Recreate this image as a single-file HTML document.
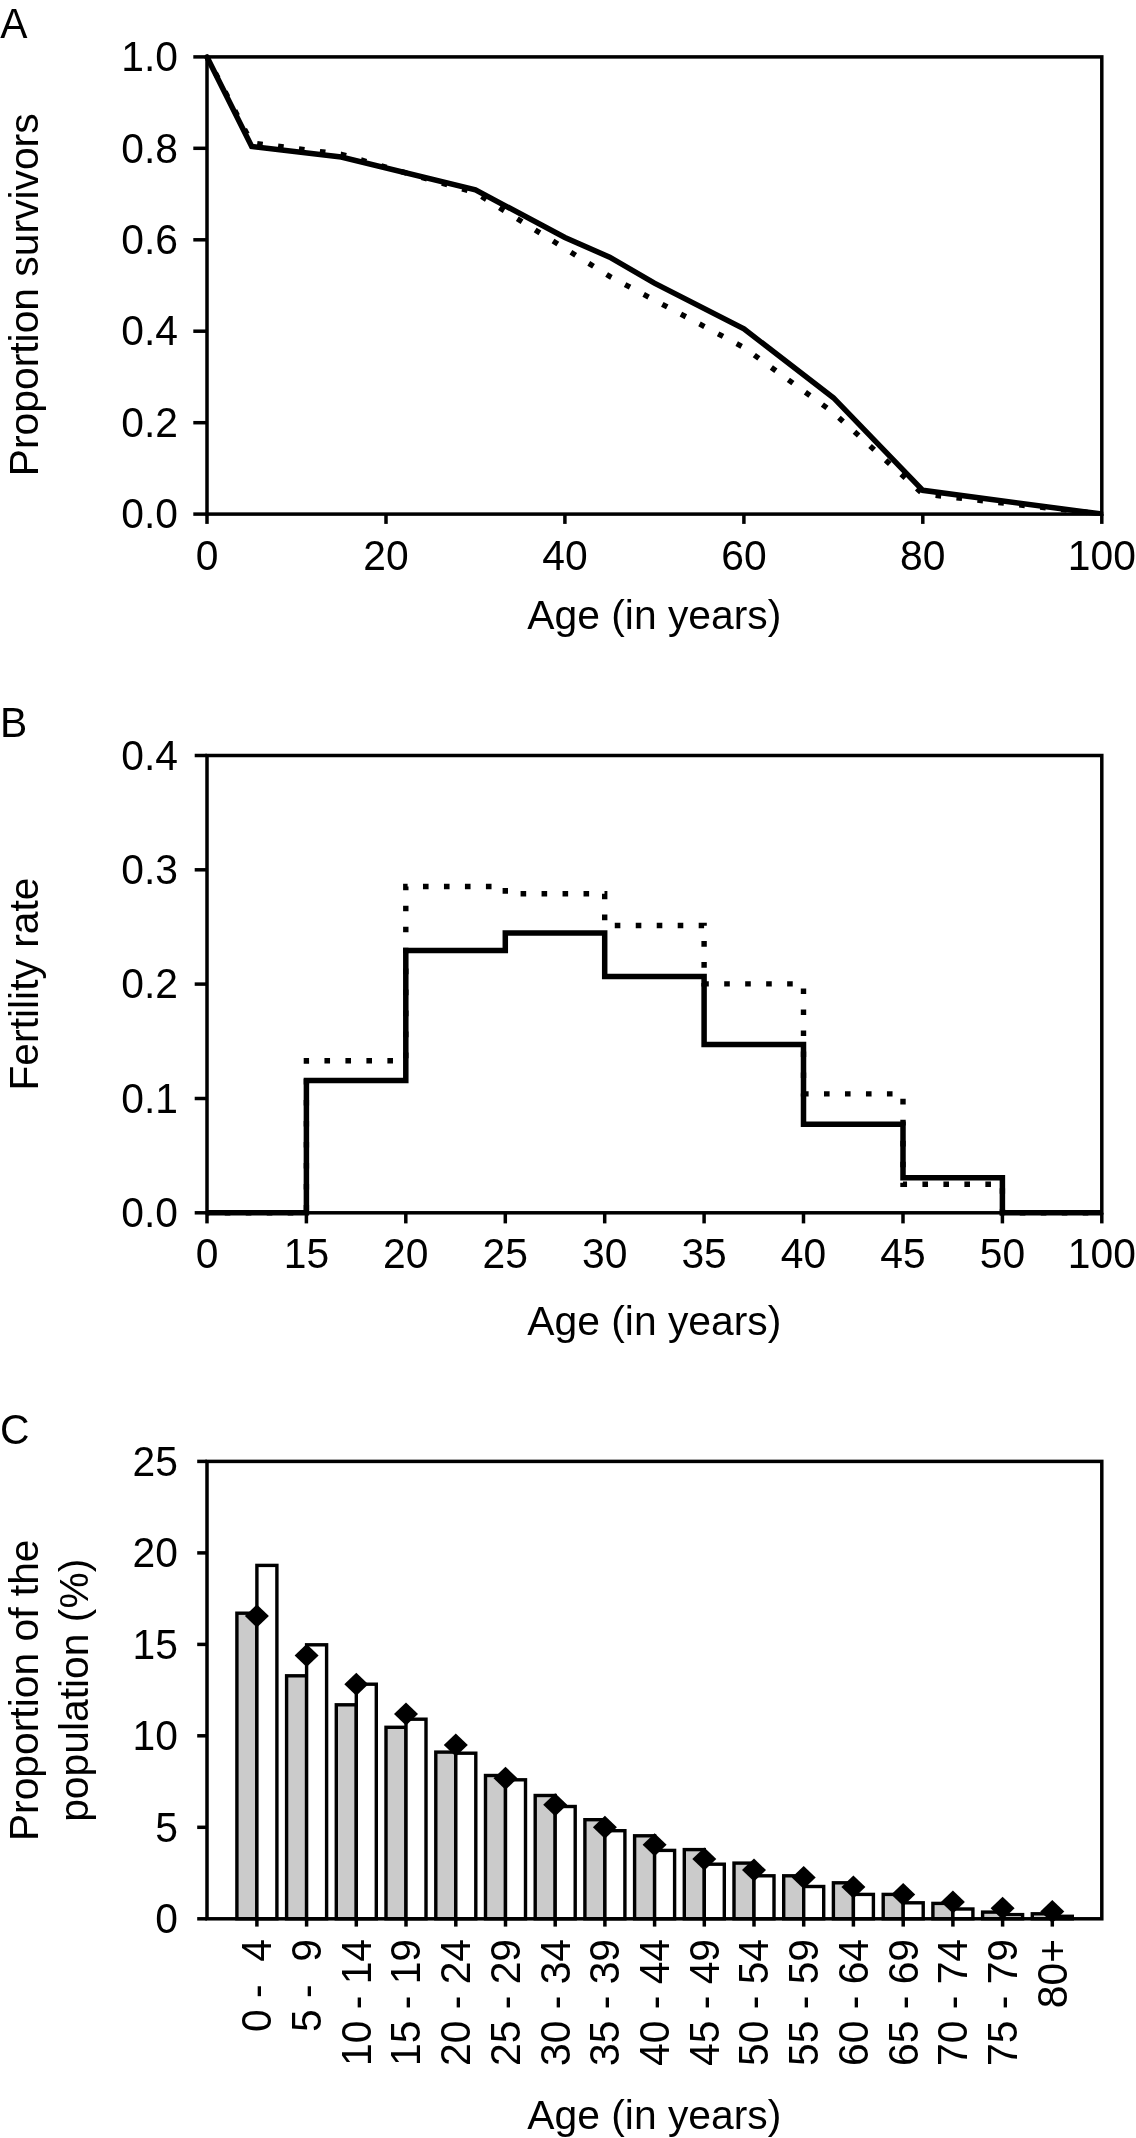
<!DOCTYPE html>
<html><head><meta charset="utf-8"><title>Figure</title>
<style>
html,body{margin:0;padding:0;background:#fff;}
svg{display:block;will-change:transform;}
text{font-family:"Liberation Sans",sans-serif;fill:#000;}
.fr{fill:none;stroke:#000;stroke-width:3.5;}
.tk{stroke:#000;stroke-width:3.5;}
.sol{fill:none;stroke:#000;stroke-width:5.5;stroke-linejoin:miter;stroke-linecap:round;}
.sq{stroke-linecap:butt;}
.dot{fill:none;stroke:#000;stroke-width:5.4;stroke-dasharray:5.6 15.45;stroke-dashoffset:2.8;}
.dotb{stroke-dasharray:5.6 15.38;stroke-dashoffset:3.2;}
.bg{fill:#cbcbcb;stroke:#000;stroke-width:3.4;}
.bw{fill:#fff;stroke:#000;stroke-width:3.4;}
.dia{fill:#000;}
</style></head>
<body>
<svg width="1136" height="2138" viewBox="0 0 1136 2138">
<rect width="1136" height="2138" fill="#fff"/>
<text transform="translate(0.3 38) scale(1 1.04)" text-anchor="start" font-size="40.8">A</text>
<polyline class="dot" points="207.0,56.9 251.7,142.9 341.2,154.3 475.4,192.7 609.7,276.4 743.9,347.5 833.4,412.6 922.8,494.0 1101.8,514.1"/>
<clipPath id="ca"><rect x="203.0" y="52.9" width="900.3" height="462.95"/></clipPath>
<polyline class="sol" clip-path="url(#ca)" points="207.0,56.9 251.7,146.5 341.2,157.0 475.4,189.9 564.9,237.5 609.7,257.2 654.4,283.2 743.9,328.9 833.4,397.7 922.8,490.3 1101.8,514.1"/>
<rect class="fr" x="207.0" y="56.9" width="894.8" height="457.20000000000005"/>
<line class="tk" x1="193.3" y1="514.1" x2="207.0" y2="514.1"/>
<text transform="translate(178 528.3) scale(1 1.04)" text-anchor="end" font-size="40.8">0.0</text>
<line class="tk" x1="193.3" y1="422.7" x2="207.0" y2="422.7"/>
<text transform="translate(178 436.9) scale(1 1.04)" text-anchor="end" font-size="40.8">0.2</text>
<line class="tk" x1="193.3" y1="331.2" x2="207.0" y2="331.2"/>
<text transform="translate(178 345.4) scale(1 1.04)" text-anchor="end" font-size="40.8">0.4</text>
<line class="tk" x1="193.3" y1="239.8" x2="207.0" y2="239.8"/>
<text transform="translate(178 254.0) scale(1 1.04)" text-anchor="end" font-size="40.8">0.6</text>
<line class="tk" x1="193.3" y1="148.3" x2="207.0" y2="148.3"/>
<text transform="translate(178 162.5) scale(1 1.04)" text-anchor="end" font-size="40.8">0.8</text>
<line class="tk" x1="193.3" y1="56.9" x2="207.0" y2="56.9"/>
<text transform="translate(178 71.1) scale(1 1.04)" text-anchor="end" font-size="40.8">1.0</text>
<line class="tk" x1="207.0" y1="514.1" x2="207.0" y2="523.9"/>
<text transform="translate(207.0 569.6) scale(1 1.04)" text-anchor="middle" font-size="40.8">0</text>
<line class="tk" x1="386.0" y1="514.1" x2="386.0" y2="523.9"/>
<text transform="translate(386.0 569.6) scale(1 1.04)" text-anchor="middle" font-size="40.8">20</text>
<line class="tk" x1="564.9" y1="514.1" x2="564.9" y2="523.9"/>
<text transform="translate(564.9 569.6) scale(1 1.04)" text-anchor="middle" font-size="40.8">40</text>
<line class="tk" x1="743.9" y1="514.1" x2="743.9" y2="523.9"/>
<text transform="translate(743.9 569.6) scale(1 1.04)" text-anchor="middle" font-size="40.8">60</text>
<line class="tk" x1="922.8" y1="514.1" x2="922.8" y2="523.9"/>
<text transform="translate(922.8 569.6) scale(1 1.04)" text-anchor="middle" font-size="40.8">80</text>
<line class="tk" x1="1101.8" y1="514.1" x2="1101.8" y2="523.9"/>
<text transform="translate(1101.8 569.6) scale(1 1.04)" text-anchor="middle" font-size="40.8">100</text>
<text transform="translate(654.3 629.1) scale(1 1.0)" text-anchor="middle" font-size="40.8">Age (in years)</text>
<text transform="translate(38 294.8) rotate(-90) scale(1 1.0)" text-anchor="middle" font-size="40.8">Proportion survivors</text>
<text transform="translate(0 736.9) scale(1 1.04)" text-anchor="start" font-size="40.8">B</text>
<polyline class="dot dotb" points="207.0,1212.8 306.4,1212.8 306.4,1060.7 405.8,1060.7 405.8,886.5 505.3,886.5 505.3,893.8 604.7,893.8 604.7,925.5 704.1,925.5 704.1,983.9 803.5,983.9 803.5,1093.9 903.0,1093.9 903.0,1184.3 1002.4,1184.3 1002.4,1212.8 1101.8,1212.8"/>
<polyline class="sol sq" points="207.0,1212.8 306.4,1212.8 306.4,1080.4 405.8,1080.4 405.8,950.4 505.3,950.4 505.3,932.9 604.7,932.9 604.7,976.5 704.1,976.5 704.1,1044.4 803.5,1044.4 803.5,1124.3 903.0,1124.3 903.0,1177.8 1002.4,1177.8 1002.4,1212.8 1101.8,1212.8"/>
<rect class="fr" x="207.0" y="755.5" width="894.8" height="457.29999999999995"/>
<line class="tk" x1="194.7" y1="1212.8" x2="207.0" y2="1212.8"/>
<text transform="translate(178 1227.0) scale(1 1.04)" text-anchor="end" font-size="40.8">0.0</text>
<line class="tk" x1="194.7" y1="1098.5" x2="207.0" y2="1098.5"/>
<text transform="translate(178 1112.7) scale(1 1.04)" text-anchor="end" font-size="40.8">0.1</text>
<line class="tk" x1="194.7" y1="984.1" x2="207.0" y2="984.1"/>
<text transform="translate(178 998.4) scale(1 1.04)" text-anchor="end" font-size="40.8">0.2</text>
<line class="tk" x1="194.7" y1="869.8" x2="207.0" y2="869.8"/>
<text transform="translate(178 884.0) scale(1 1.04)" text-anchor="end" font-size="40.8">0.3</text>
<line class="tk" x1="194.7" y1="755.5" x2="207.0" y2="755.5"/>
<text transform="translate(178 769.7) scale(1 1.04)" text-anchor="end" font-size="40.8">0.4</text>
<line class="tk" x1="207.0" y1="1212.8" x2="207.0" y2="1223.3999999999999"/>
<text transform="translate(207.0 1268.1) scale(1 1.04)" text-anchor="middle" font-size="40.8">0</text>
<line class="tk" x1="306.4" y1="1212.8" x2="306.4" y2="1223.3999999999999"/>
<text transform="translate(306.4 1268.1) scale(1 1.04)" text-anchor="middle" font-size="40.8">15</text>
<line class="tk" x1="405.8" y1="1212.8" x2="405.8" y2="1223.3999999999999"/>
<text transform="translate(405.8 1268.1) scale(1 1.04)" text-anchor="middle" font-size="40.8">20</text>
<line class="tk" x1="505.3" y1="1212.8" x2="505.3" y2="1223.3999999999999"/>
<text transform="translate(505.3 1268.1) scale(1 1.04)" text-anchor="middle" font-size="40.8">25</text>
<line class="tk" x1="604.7" y1="1212.8" x2="604.7" y2="1223.3999999999999"/>
<text transform="translate(604.7 1268.1) scale(1 1.04)" text-anchor="middle" font-size="40.8">30</text>
<line class="tk" x1="704.1" y1="1212.8" x2="704.1" y2="1223.3999999999999"/>
<text transform="translate(704.1 1268.1) scale(1 1.04)" text-anchor="middle" font-size="40.8">35</text>
<line class="tk" x1="803.5" y1="1212.8" x2="803.5" y2="1223.3999999999999"/>
<text transform="translate(803.5 1268.1) scale(1 1.04)" text-anchor="middle" font-size="40.8">40</text>
<line class="tk" x1="903.0" y1="1212.8" x2="903.0" y2="1223.3999999999999"/>
<text transform="translate(903.0 1268.1) scale(1 1.04)" text-anchor="middle" font-size="40.8">45</text>
<line class="tk" x1="1002.4" y1="1212.8" x2="1002.4" y2="1223.3999999999999"/>
<text transform="translate(1002.4 1268.1) scale(1 1.04)" text-anchor="middle" font-size="40.8">50</text>
<line class="tk" x1="1101.8" y1="1212.8" x2="1101.8" y2="1223.3999999999999"/>
<text transform="translate(1101.8 1268.1) scale(1 1.04)" text-anchor="middle" font-size="40.8">100</text>
<text transform="translate(654.3 1334.6) scale(1 1.0)" text-anchor="middle" font-size="40.8">Age (in years)</text>
<text transform="translate(38 984) rotate(-90) scale(1 1.0)" text-anchor="middle" font-size="40.8">Fertility rate</text>
<text transform="translate(0 1444) scale(1 1.04)" text-anchor="start" font-size="40.8">C</text>
<rect class="bg" x="236.9" y="1613.2" width="20.0" height="305.6"/>
<rect class="bw" x="256.9" y="1565.4" width="20.0" height="353.4"/>
<rect class="bg" x="286.6" y="1675.8" width="20.0" height="243.0"/>
<rect class="bw" x="306.6" y="1644.8" width="20.0" height="274.0"/>
<rect class="bg" x="336.3" y="1704.8" width="20.0" height="214.0"/>
<rect class="bw" x="356.3" y="1684.2" width="20.0" height="234.6"/>
<rect class="bg" x="386.0" y="1727.3" width="20.0" height="191.5"/>
<rect class="bw" x="406.0" y="1719.2" width="20.0" height="199.6"/>
<rect class="bg" x="435.8" y="1752.1" width="20.0" height="166.7"/>
<rect class="bw" x="455.8" y="1753.2" width="20.0" height="165.6"/>
<rect class="bg" x="485.5" y="1775.5" width="20.0" height="143.3"/>
<rect class="bw" x="505.5" y="1779.8" width="20.0" height="139.0"/>
<rect class="bg" x="535.2" y="1795.5" width="20.0" height="123.3"/>
<rect class="bw" x="555.2" y="1806.5" width="20.0" height="112.3"/>
<rect class="bg" x="584.9" y="1819.7" width="20.0" height="99.1"/>
<rect class="bw" x="604.9" y="1830.7" width="20.0" height="88.1"/>
<rect class="bg" x="634.6" y="1835.8" width="20.0" height="83.0"/>
<rect class="bw" x="654.6" y="1850.4" width="20.0" height="68.4"/>
<rect class="bg" x="684.3" y="1849.6" width="20.0" height="69.2"/>
<rect class="bw" x="704.3" y="1864.2" width="20.0" height="54.6"/>
<rect class="bg" x="734.0" y="1863.1" width="20.0" height="55.7"/>
<rect class="bw" x="754.0" y="1875.8" width="20.0" height="43.0"/>
<rect class="bg" x="783.7" y="1875.8" width="20.0" height="43.0"/>
<rect class="bw" x="803.7" y="1886.5" width="20.0" height="32.3"/>
<rect class="bg" x="833.4" y="1882.8" width="20.0" height="36.0"/>
<rect class="bw" x="853.4" y="1894.4" width="20.0" height="24.4"/>
<rect class="bg" x="883.2" y="1894.4" width="20.0" height="24.4"/>
<rect class="bw" x="903.2" y="1902.8" width="20.0" height="16.0"/>
<rect class="bg" x="932.9" y="1903.4" width="20.0" height="15.4"/>
<rect class="bw" x="952.9" y="1909.0" width="20.0" height="9.8"/>
<rect class="bg" x="982.6" y="1912.1" width="20.0" height="6.7"/>
<rect class="bw" x="1002.6" y="1914.6" width="20.0" height="4.2"/>
<rect class="bg" x="1032.3" y="1913.8" width="20.0" height="5.0"/>
<rect class="bw" x="1052.3" y="1916.3" width="20.0" height="2.5"/>
<path class="dia" d="M256.9 1604.5L268.9 1616.0L256.9 1627.5L244.9 1616.0Z"/>
<path class="dia" d="M306.6 1644.0L318.6 1655.5L306.6 1667.0L294.6 1655.5Z"/>
<path class="dia" d="M356.3 1672.7L368.3 1684.2L356.3 1695.7L344.3 1684.2Z"/>
<path class="dia" d="M406.0 1702.6L418.0 1714.1L406.0 1725.6L394.0 1714.1Z"/>
<path class="dia" d="M455.8 1733.6L467.8 1745.1L455.8 1756.6L443.8 1745.1Z"/>
<path class="dia" d="M505.5 1766.8L517.5 1778.3L505.5 1789.8L493.5 1778.3Z"/>
<path class="dia" d="M555.2 1793.3L567.2 1804.8L555.2 1816.3L543.2 1804.8Z"/>
<path class="dia" d="M604.9 1815.8L616.9 1827.3L604.9 1838.8L592.9 1827.3Z"/>
<path class="dia" d="M654.6 1833.3L666.6 1844.8L654.6 1856.3L642.6 1844.8Z"/>
<path class="dia" d="M704.3 1847.4L716.3 1858.9L704.3 1870.4L692.3 1858.9Z"/>
<path class="dia" d="M754.0 1858.6L766.0 1870.1L754.0 1881.6L742.0 1870.1Z"/>
<path class="dia" d="M803.7 1866.0L815.7 1877.5L803.7 1889.0L791.7 1877.5Z"/>
<path class="dia" d="M853.4 1875.5L865.4 1887.0L853.4 1898.5L841.4 1887.0Z"/>
<path class="dia" d="M903.2 1883.1L915.2 1894.6L903.2 1906.1L891.2 1894.6Z"/>
<path class="dia" d="M952.9 1890.5L964.9 1902.0L952.9 1913.5L940.9 1902.0Z"/>
<path class="dia" d="M1002.6 1896.7L1014.6 1908.2L1002.6 1919.7L990.6 1908.2Z"/>
<path class="dia" d="M1052.3 1900.0L1064.3 1911.5L1052.3 1923.0L1040.3 1911.5Z"/>
<rect class="fr" x="207.0" y="1461.4" width="894.8" height="457.39999999999986"/>
<line class="tk" x1="197.2" y1="1918.8" x2="207.0" y2="1918.8"/>
<text transform="translate(178 1933.0) scale(1 1.04)" text-anchor="end" font-size="40.8">0</text>
<line class="tk" x1="197.2" y1="1827.3" x2="207.0" y2="1827.3"/>
<text transform="translate(178 1841.5) scale(1 1.04)" text-anchor="end" font-size="40.8">5</text>
<line class="tk" x1="197.2" y1="1735.8" x2="207.0" y2="1735.8"/>
<text transform="translate(178 1750.0) scale(1 1.04)" text-anchor="end" font-size="40.8">10</text>
<line class="tk" x1="197.2" y1="1644.4" x2="207.0" y2="1644.4"/>
<text transform="translate(178 1658.6) scale(1 1.04)" text-anchor="end" font-size="40.8">15</text>
<line class="tk" x1="197.2" y1="1552.9" x2="207.0" y2="1552.9"/>
<text transform="translate(178 1567.1) scale(1 1.04)" text-anchor="end" font-size="40.8">20</text>
<line class="tk" x1="197.2" y1="1461.4" x2="207.0" y2="1461.4"/>
<text transform="translate(178 1475.6) scale(1 1.04)" text-anchor="end" font-size="40.8">25</text>
<line class="tk" x1="256.9" y1="1918.8" x2="256.9" y2="1926.6"/>
<text transform="translate(271.2 1939) rotate(-90) scale(1 1.04)" text-anchor="end" font-size="40.8">0 -&#160;&#160;4</text>
<line class="tk" x1="306.6" y1="1918.8" x2="306.6" y2="1926.6"/>
<text transform="translate(320.9 1939) rotate(-90) scale(1 1.04)" text-anchor="end" font-size="40.8">5 -&#160;&#160;9</text>
<line class="tk" x1="356.3" y1="1918.8" x2="356.3" y2="1926.6"/>
<text transform="translate(370.6 1939) rotate(-90) scale(1 1.04)" text-anchor="end" font-size="40.8">10 - 14</text>
<line class="tk" x1="406.0" y1="1918.8" x2="406.0" y2="1926.6"/>
<text transform="translate(420.3 1939) rotate(-90) scale(1 1.04)" text-anchor="end" font-size="40.8">15 - 19</text>
<line class="tk" x1="455.8" y1="1918.8" x2="455.8" y2="1926.6"/>
<text transform="translate(470.1 1939) rotate(-90) scale(1 1.04)" text-anchor="end" font-size="40.8">20 - 24</text>
<line class="tk" x1="505.5" y1="1918.8" x2="505.5" y2="1926.6"/>
<text transform="translate(519.8 1939) rotate(-90) scale(1 1.04)" text-anchor="end" font-size="40.8">25 - 29</text>
<line class="tk" x1="555.2" y1="1918.8" x2="555.2" y2="1926.6"/>
<text transform="translate(569.5 1939) rotate(-90) scale(1 1.04)" text-anchor="end" font-size="40.8">30 - 34</text>
<line class="tk" x1="604.9" y1="1918.8" x2="604.9" y2="1926.6"/>
<text transform="translate(619.2 1939) rotate(-90) scale(1 1.04)" text-anchor="end" font-size="40.8">35 - 39</text>
<line class="tk" x1="654.6" y1="1918.8" x2="654.6" y2="1926.6"/>
<text transform="translate(668.9 1939) rotate(-90) scale(1 1.04)" text-anchor="end" font-size="40.8">40 - 44</text>
<line class="tk" x1="704.3" y1="1918.8" x2="704.3" y2="1926.6"/>
<text transform="translate(718.6 1939) rotate(-90) scale(1 1.04)" text-anchor="end" font-size="40.8">45 - 49</text>
<line class="tk" x1="754.0" y1="1918.8" x2="754.0" y2="1926.6"/>
<text transform="translate(768.3 1939) rotate(-90) scale(1 1.04)" text-anchor="end" font-size="40.8">50 - 54</text>
<line class="tk" x1="803.7" y1="1918.8" x2="803.7" y2="1926.6"/>
<text transform="translate(818.0 1939) rotate(-90) scale(1 1.04)" text-anchor="end" font-size="40.8">55 - 59</text>
<line class="tk" x1="853.4" y1="1918.8" x2="853.4" y2="1926.6"/>
<text transform="translate(867.7 1939) rotate(-90) scale(1 1.04)" text-anchor="end" font-size="40.8">60 - 64</text>
<line class="tk" x1="903.2" y1="1918.8" x2="903.2" y2="1926.6"/>
<text transform="translate(917.5 1939) rotate(-90) scale(1 1.04)" text-anchor="end" font-size="40.8">65 - 69</text>
<line class="tk" x1="952.9" y1="1918.8" x2="952.9" y2="1926.6"/>
<text transform="translate(967.2 1939) rotate(-90) scale(1 1.04)" text-anchor="end" font-size="40.8">70 - 74</text>
<line class="tk" x1="1002.6" y1="1918.8" x2="1002.6" y2="1926.6"/>
<text transform="translate(1016.9 1939) rotate(-90) scale(1 1.04)" text-anchor="end" font-size="40.8">75 - 79</text>
<line class="tk" x1="1052.3" y1="1918.8" x2="1052.3" y2="1926.6"/>
<text transform="translate(1066.6 1939) rotate(-90) scale(1 1.04)" text-anchor="end" font-size="40.8">80+</text>
<text transform="translate(654.3 2128.8) scale(1 1.0)" text-anchor="middle" font-size="40.8">Age (in years)</text>
<text transform="translate(38 1690.3) rotate(-90) scale(1 1.0)" text-anchor="middle" font-size="40.8">Proportion of the</text>
<text transform="translate(87.8 1690.3) rotate(-90) scale(1 1.0)" text-anchor="middle" font-size="40.8">population (%)</text>
</svg>
</body></html>
